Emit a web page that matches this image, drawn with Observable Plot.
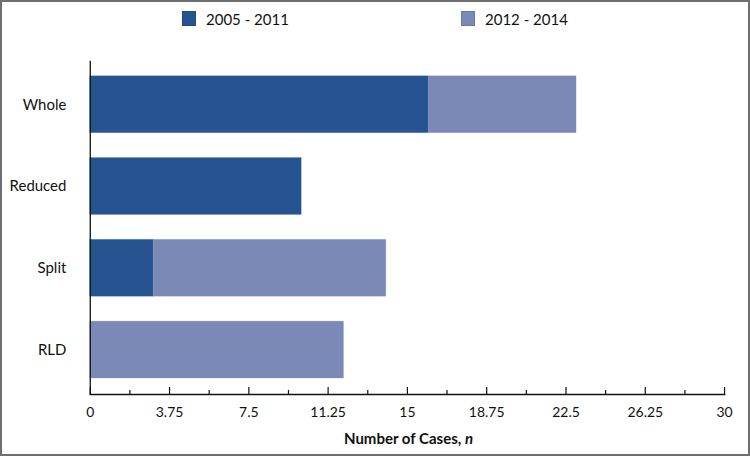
<!DOCTYPE html>
<html><head><meta charset="utf-8">
<script src="https://cdn.jsdelivr.net/npm/d3@7"></script>
<script src="https://cdn.jsdelivr.net/npm/@observablehq/plot@0.6"></script>
<style>
html,body{margin:0;padding:0;background:#fff;}
#wrap{position:relative;width:750px;height:456px;box-sizing:border-box;border:2px solid #6e6e6e;overflow:hidden;font-family:Lato,"Open Sans",sans-serif;}
#chart{position:absolute;left:-2px;top:-2px;}
#legend{position:absolute;left:-2px;top:-2px;width:750px;height:40px;}
.li{position:absolute;top:11px;height:15px;display:flex;align-items:center;font-size:15px;color:#111;}
.sw{display:inline-block;width:14px;height:15px;margin-right:10px;box-sizing:border-box;border:1px solid rgba(0,0,0,0.12);}
#xtitle{position:absolute;top:427px;left:-2px;width:817px;text-align:center;font-size:15px;font-weight:bold;color:#111;}
</style></head>
<body>
<div id="wrap">
<div id="chart"></div>
<div id="legend"></div>
<div id="xtitle">Number of Cases, <i>n</i></div>
</div>
<script>
const categories = ["Whole", "Reduced", "Split", "RLD"];
const series = ["2005 - 2011", "2012 - 2014"];
const values2005_2011 = [16, 10, 3, 0];
const values2012_2014 = [7, 0, 11, 12];
const colors = ["#265490", "#7b89b7"];
const majorTicks = [0, 3.75, 7.5, 11.25, 15, 18.75, 22.5, 26.25, 30];
const minorTicks = [1.875, 5.625, 9.375, 13.125, 16.875, 20.625, 24.375, 28.125];

const data = [];
categories.forEach((c, i) => {
  data.push({cat: c, period: series[0], n: values2005_2011[i]});
  data.push({cat: c, period: series[1], n: values2012_2014[i]});
});

const W = 750, H = 456, mt = 61, mb = 61;
const innerH = H - mt - mb;

const chart = Plot.plot({
  width: W, height: H,
  marginLeft: 90, marginRight: 24, marginTop: mt, marginBottom: mb,
  style: {fontFamily: "Lato, 'Open Sans', sans-serif", fontSize: "15px", color: "#111", background: "transparent"},
  x: {domain: [0, 30], label: null},
  y: {domain: categories, paddingInner: 0.3, paddingOuter: 0.17, label: null},
  color: {domain: series, range: colors},
  marks: [
    Plot.barX(data, Plot.stackX({x: "n", y: "cat", fill: "period", order: series, stroke: "period", strokeOpacity: 0.25})),
    Plot.axisY({tickSize: 0, tickPadding: 24, fontSize: 15, label: null}),
    Plot.axisX({ticks: majorTicks, tickSize: 0, tickPadding: 13, fontSize: 14, tickFormat: d => String(d), label: null}),
    Plot.tickX(majorTicks, {x: d => d, insetTop: innerH - 7, stroke: "#111", strokeWidth: 1.2}),
    Plot.tickX(minorTicks, {x: d => d, insetTop: innerH - 4, stroke: "#111", strokeWidth: 1.2}),
    Plot.ruleX([0], {stroke: "#111", strokeWidth: 1.3}),
    Plot.frame({anchor: "bottom", stroke: "#111", strokeWidth: 1.6})
  ]
});
document.getElementById("chart").appendChild(chart);

const legend = document.getElementById("legend");
const legendX = [182, 461];
series.forEach((s, i) => {
  const d = document.createElement("div");
  d.className = "li";
  d.style.left = legendX[i] + "px";
  const sw = document.createElement("span");
  sw.className = "sw";
  sw.style.background = colors[i];
  d.appendChild(sw);
  d.appendChild(document.createTextNode(s));
  legend.appendChild(d);
});
</script>
</body></html>
